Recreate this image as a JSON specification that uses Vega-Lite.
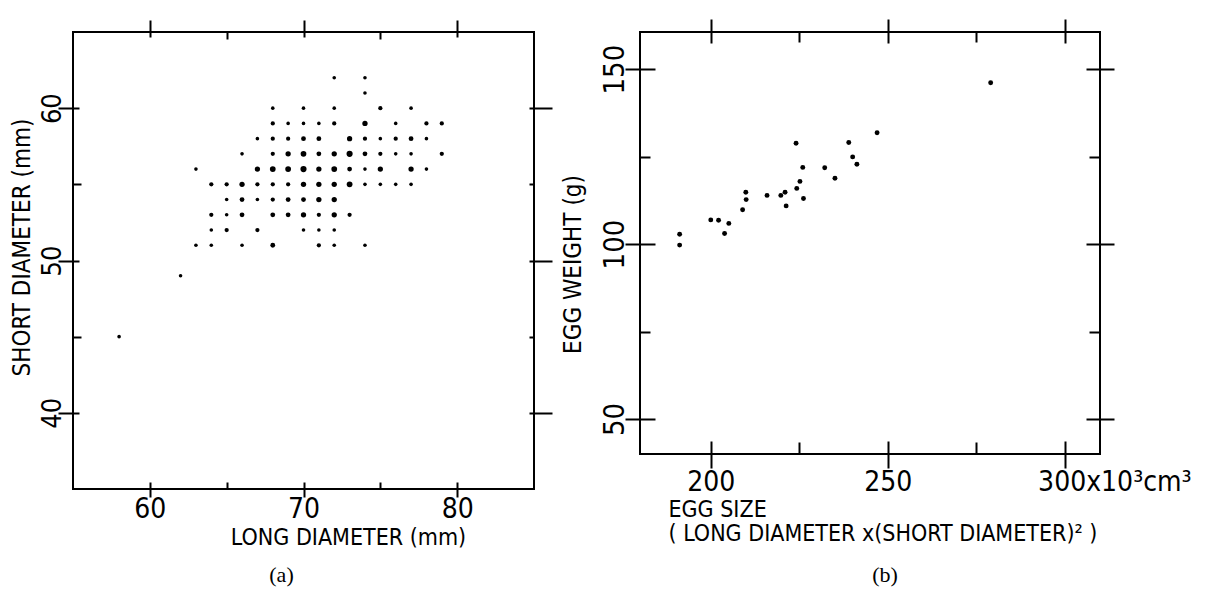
{
  "$schema": "https://vega.github.io/schema/vega-lite/v6.json",
  "background": "white",
  "padding": {"left": 9, "top": 17, "right": 0, "bottom": 0},
  "spacing": 106,
  "bounds": "flush",
  "config": {
    "view": {"stroke": "black", "strokeWidth": 2},
    "axis": {
      "grid": false, "domain": false,
      "labelFont": "DejaVu Sans Condensed, DejaVu Sans",
      "titleFont": "DejaVu Sans Condensed, DejaVu Sans",
      "labelColor": "black", "titleColor": "black",
      "tickColor": "black", "tickWidth": 2,
      "labelFontWeight": "normal", "titleFontWeight": "normal",
      "labelOverlap": false, "labelFlush": false, "labelBound": false
    },
    "title": {"font": "Liberation Serif", "fontSize": 22, "fontWeight": "normal", "color": "black"}
  },
  "datasets": {
    "a": [
      {"long":72,"short":62,"n":1},{"long":74,"short":62,"n":1},
      {"long":74,"short":61,"n":1},
      {"long":68,"short":60,"n":1},{"long":70,"short":60,"n":1},{"long":72,"short":60,"n":1},{"long":75,"short":60,"n":2},{"long":77,"short":60,"n":1},
      {"long":68,"short":59,"n":2},{"long":69,"short":59,"n":1},{"long":70,"short":59,"n":1},{"long":71,"short":59,"n":1},{"long":72,"short":59,"n":2},{"long":74,"short":59,"n":4},{"long":76,"short":59,"n":1},{"long":78,"short":59,"n":2},{"long":79,"short":59,"n":2},
      {"long":67,"short":58,"n":1},{"long":68,"short":58,"n":2},{"long":69,"short":58,"n":2},{"long":70,"short":58,"n":3},{"long":71,"short":58,"n":3},{"long":73,"short":58,"n":4},{"long":74,"short":58,"n":2},{"long":75,"short":58,"n":1},{"long":76,"short":58,"n":2},{"long":77,"short":58,"n":3},{"long":78,"short":58,"n":1},
      {"long":66,"short":57,"n":1},{"long":68,"short":57,"n":2},{"long":69,"short":57,"n":4},{"long":70,"short":57,"n":5},{"long":71,"short":57,"n":3},{"long":72,"short":57,"n":4},{"long":73,"short":57,"n":6},{"long":74,"short":57,"n":3},{"long":75,"short":57,"n":2},{"long":76,"short":57,"n":1},{"long":77,"short":57,"n":1},{"long":79,"short":57,"n":2},
      {"long":63,"short":56,"n":1},{"long":67,"short":56,"n":4},{"long":68,"short":56,"n":5},{"long":69,"short":56,"n":5},{"long":70,"short":56,"n":6},{"long":71,"short":56,"n":4},{"long":72,"short":56,"n":5},{"long":73,"short":56,"n":3},{"long":74,"short":56,"n":1},{"long":75,"short":56,"n":4},{"long":77,"short":56,"n":4},{"long":78,"short":56,"n":1},
      {"long":64,"short":55,"n":2},{"long":65,"short":55,"n":2},{"long":66,"short":55,"n":4},{"long":67,"short":55,"n":2},{"long":68,"short":55,"n":2},{"long":69,"short":55,"n":2},{"long":70,"short":55,"n":4},{"long":71,"short":55,"n":4},{"long":72,"short":55,"n":4},{"long":73,"short":55,"n":5},{"long":74,"short":55,"n":1},{"long":75,"short":55,"n":1},{"long":76,"short":55,"n":1},{"long":77,"short":55,"n":1},
      {"long":65,"short":54,"n":1},{"long":66,"short":54,"n":3},{"long":67,"short":54,"n":1},{"long":68,"short":54,"n":2},{"long":69,"short":54,"n":3},{"long":70,"short":54,"n":3},{"long":71,"short":54,"n":4},{"long":72,"short":54,"n":4},
      {"long":64,"short":53,"n":2},{"long":65,"short":53,"n":1},{"long":66,"short":53,"n":3},{"long":68,"short":53,"n":3},{"long":69,"short":53,"n":3},{"long":70,"short":53,"n":4},{"long":71,"short":53,"n":2},{"long":72,"short":53,"n":4},{"long":73,"short":53,"n":2},
      {"long":64,"short":52,"n":1},{"long":65,"short":52,"n":2},{"long":67,"short":52,"n":2},{"long":70,"short":52,"n":1},{"long":71,"short":52,"n":1},{"long":72,"short":52,"n":1},
      {"long":63,"short":51,"n":1},{"long":64,"short":51,"n":1},{"long":66,"short":51,"n":1},{"long":68,"short":51,"n":3},{"long":71,"short":51,"n":2},{"long":72,"short":51,"n":1},{"long":74,"short":51,"n":1},
      {"long":62,"short":49,"n":1},
      {"long":58,"short":45,"n":1}
    ],
    "b": [
      {"size":191.2,"weight":102.8},{"size":191.2,"weight":99.7},{"size":200.0,"weight":106.9},{"size":202.2,"weight":106.8},
      {"size":203.9,"weight":103.0},{"size":205.1,"weight":105.9},{"size":209.0,"weight":109.8},{"size":209.9,"weight":114.8},
      {"size":210.0,"weight":112.7},{"size":215.9,"weight":113.9},{"size":219.8,"weight":113.9},{"size":221.0,"weight":114.8},
      {"size":221.3,"weight":110.9},{"size":224.1,"weight":128.8},{"size":224.3,"weight":115.9},{"size":225.2,"weight":117.9},
      {"size":226.0,"weight":121.9},{"size":226.2,"weight":113.0},{"size":232.2,"weight":121.8},{"size":235.1,"weight":118.8},
      {"size":239.0,"weight":129.0},{"size":240.1,"weight":124.9},{"size":241.3,"weight":122.8},{"size":247.0,"weight":131.8},
      {"size":279.1,"weight":146.1}
    ]
  },
  "hconcat": [
    {
      "width": 461, "height": 457,
      "title": {"text": "(a)", "orient": "bottom", "anchor": "middle", "offset": 16, "dx": -22},
      "data": {"name": "a"},
      "resolve": {"axis": {"x": "independent", "y": "independent"}},
      "layer": [
        {
          "mark": {"type": "circle", "color": "black", "opacity": 1},
          "encoding": {
            "x": {"field": "long", "type": "quantitative", "scale": {"domain": [55, 85], "nice": false, "zero": false},
              "axis": {"orient": "bottom", "values": [60, 70, 80], "ticks": false, "labelPadding": 6, "labelFontSize": 28, "labelBaseline": "top",
                "title": "LONG  DIAMETER (mm)", "titleFontSize": 23, "titleX": 275, "titleY": 48, "titleBaseline": "middle", "titleAlign": "center"}},
            "y": {"field": "short", "type": "quantitative", "scale": {"domain": [35, 65], "nice": false, "zero": false},
              "axis": {"orient": "left", "values": [40, 50, 60], "ticks": false, "labelAngle": -90, "labelAlign": "center", "labelBaseline": "alphabetic", "labelPadding": 13, "labelFontSize": 27,
                "title": "SHORT  DIAMETER (mm)", "titleFontSize": 24, "titleX": -51, "titleY": 215, "titleAngle": -90, "titleAlign": "center", "titleBaseline": "middle"}},
            "size": {"field": "n", "type": "quantitative", "scale": {"domain": [1, 6], "range": [13, 38]}, "legend": null}
          }
        },
        {
          "mark": {"type": "circle", "opacity": 0},
          "encoding": {
            "x": {"field": "long", "type": "quantitative", "scale": {"domain": [55, 85], "nice": false, "zero": false},
              "axis": {"orient": "bottom", "values": [60, 70, 80], "labels": false, "title": null, "offset": -7, "tickSize": 15}},
            "y": {"field": "short", "type": "quantitative", "scale": {"domain": [35, 65], "nice": false, "zero": false},
              "axis": {"orient": "left", "values": [40, 50, 60], "labels": false, "title": null, "offset": -6, "tickSize": 21}}
          }
        },
        {
          "mark": {"type": "circle", "opacity": 0},
          "encoding": {
            "x": {"field": "long", "type": "quantitative", "scale": {"domain": [55, 85], "nice": false, "zero": false},
              "axis": {"orient": "top", "values": [60, 70, 80], "labels": false, "title": null, "offset": -5, "tickSize": 17}},
            "y": {"field": "short", "type": "quantitative", "scale": {"domain": [35, 65], "nice": false, "zero": false},
              "axis": {"orient": "right", "values": [40, 50, 60], "labels": false, "title": null, "offset": -5, "tickSize": 23}}
          }
        },
        {
          "mark": {"type": "circle", "opacity": 0},
          "encoding": {
            "x": {"field": "long", "type": "quantitative", "scale": {"domain": [55, 85], "nice": false, "zero": false},
              "axis": {"orient": "bottom", "values": [65, 75], "labels": false, "title": null, "offset": -7, "tickSize": 7}},
            "y": {"field": "short", "type": "quantitative", "scale": {"domain": [35, 65], "nice": false, "zero": false},
              "axis": {"orient": "left", "values": [45, 55], "labels": false, "title": null, "offset": -8, "tickSize": 8}}
          }
        },
        {
          "mark": {"type": "circle", "opacity": 0},
          "encoding": {
            "x": {"field": "long", "type": "quantitative", "scale": {"domain": [55, 85], "nice": false, "zero": false},
              "axis": {"orient": "top", "values": [65, 75], "labels": false, "title": null, "offset": -7, "tickSize": 7}},
            "y": {"field": "short", "type": "quantitative", "scale": {"domain": [35, 65], "nice": false, "zero": false},
              "axis": {"orient": "right", "values": [45, 55], "labels": false, "title": null, "offset": -5, "tickSize": 5}}
          }
        }
      ]
    },
    {
      "width": 460, "height": 422,
      "title": {"text": "(b)", "orient": "bottom", "anchor": "middle", "offset": 20, "dx": 15},
      "data": {"name": "b"},
      "resolve": {"axis": {"x": "independent", "y": "independent"}},
      "layer": [
        {
          "mark": {"type": "circle", "color": "black", "opacity": 1, "size": 24},
          "encoding": {
            "x": {"field": "size", "type": "quantitative", "scale": {"domain": [180, 310], "nice": false, "zero": false},
              "axis": {"orient": "bottom", "values": [200, 250, 300], "ticks": false, "labelPadding": 14, "labelFontSize": 28, "labelBaseline": "top",
                "labelExpr": "datum.value == 300 ? '300x10³cm³' : datum.label",
                "labelAlign": {"condition": {"test": "datum.value == 300", "value": "left"}, "value": "center"},
                "labelOffset": {"condition": {"test": "datum.value == 300", "value": -27}, "value": 0},
                "title": ["EGG SIZE", "\u00a0\u00a0\u00a0( LONG DIAMETER x(SHORT DIAMETER)² )"], "titleFontSize": 23, "titleLineHeight": 24,
                "titleX": 28, "titleY": 44, "titleAlign": "left", "titleBaseline": "top"}},
            "y": {"field": "weight", "type": "quantitative", "scale": {"domain": [40, 160.6], "nice": false, "zero": false},
              "axis": {"orient": "left", "values": [50, 100, 150], "ticks": false, "labelAngle": -90, "labelAlign": "center", "labelBaseline": "alphabetic", "labelPadding": 17, "labelFontSize": 29,
                "title": "EGG  WEIGHT (g)", "titleFontSize": 24, "titleX": -67, "titleY": 232, "titleAngle": -90, "titleAlign": "center", "titleBaseline": "middle"}}
          }
        },
        {
          "mark": {"type": "circle", "opacity": 0},
          "encoding": {
            "x": {"field": "size", "type": "quantitative", "scale": {"domain": [180, 310], "nice": false, "zero": false},
              "axis": {"orient": "bottom", "values": [200, 250, 300], "labels": false, "title": null, "offset": -13, "tickSize": 27}},
            "y": {"field": "weight", "type": "quantitative", "scale": {"domain": [40, 160.6], "nice": false, "zero": false},
              "axis": {"orient": "left", "values": [50, 100, 150], "labels": false, "title": null, "offset": -15, "tickSize": 30}}
          }
        },
        {
          "mark": {"type": "circle", "opacity": 0},
          "encoding": {
            "x": {"field": "size", "type": "quantitative", "scale": {"domain": [180, 310], "nice": false, "zero": false},
              "axis": {"orient": "top", "values": [200, 250, 300], "labels": false, "title": null, "offset": -11, "tickSize": 24}},
            "y": {"field": "weight", "type": "quantitative", "scale": {"domain": [40, 160.6], "nice": false, "zero": false},
              "axis": {"orient": "right", "values": [50, 100, 150], "labels": false, "title": null, "offset": -14, "tickSize": 28}}
          }
        },
        {
          "mark": {"type": "circle", "opacity": 0},
          "encoding": {
            "x": {"field": "size", "type": "quantitative", "scale": {"domain": [180, 310], "nice": false, "zero": false},
              "axis": {"orient": "bottom", "values": [225, 275], "labels": false, "title": null, "offset": -12, "tickSize": 12}},
            "y": {"field": "weight", "type": "quantitative", "scale": {"domain": [40, 160.6], "nice": false, "zero": false},
              "axis": {"orient": "left", "values": [75, 125], "labels": false, "title": null, "offset": -10, "tickSize": 10}}
          }
        },
        {
          "mark": {"type": "circle", "opacity": 0},
          "encoding": {
            "x": {"field": "size", "type": "quantitative", "scale": {"domain": [180, 310], "nice": false, "zero": false},
              "axis": {"orient": "top", "values": [225, 275], "labels": false, "title": null, "offset": -10, "tickSize": 10}},
            "y": {"field": "weight", "type": "quantitative", "scale": {"domain": [40, 160.6], "nice": false, "zero": false},
              "axis": {"orient": "right", "values": [75, 125], "labels": false, "title": null, "offset": -11, "tickSize": 11}}
          }
        }
      ]
    }
  ]
}
